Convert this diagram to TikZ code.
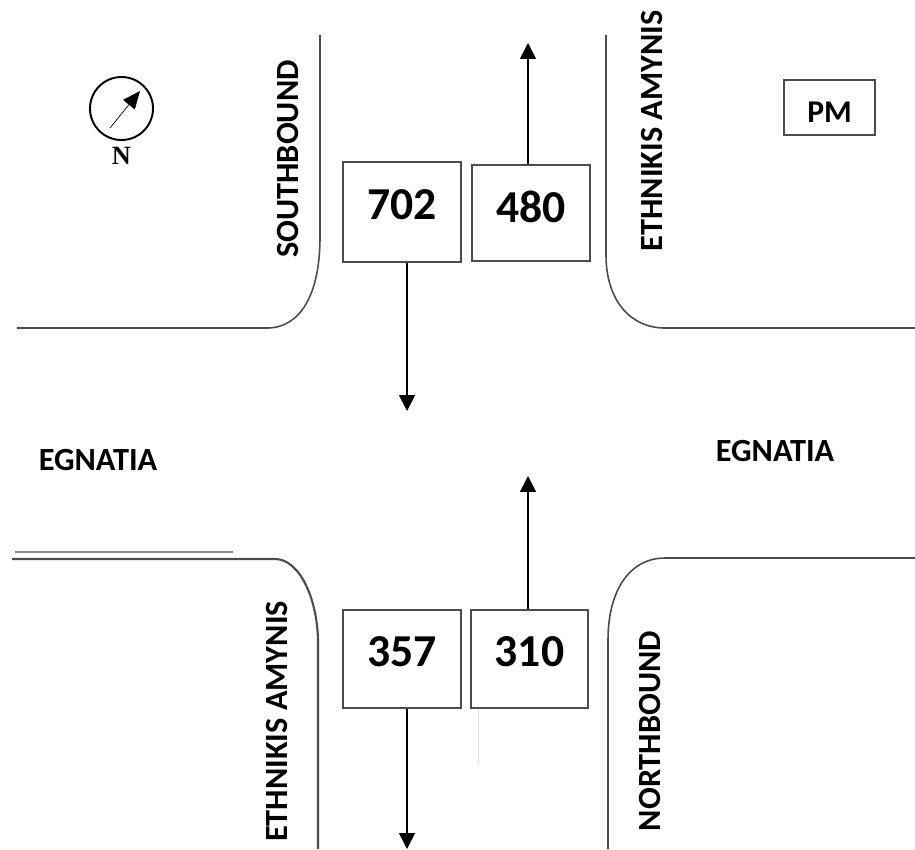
\documentclass[tikz,border=0pt]{standalone}
\usepackage{fontspec}
\setmainfont{Carlito}
\newfontfamily\signfont{Liberation Serif}
\usepackage{tikz}
\usetikzlibrary{arrows.meta, positioning}

\begin{document}
\begin{tikzpicture}[
    x=0.02cm, y=-0.02cm,
    road/.style={draw=black!70, line width=0.9pt},
    flow/.style={draw=black, line width=0.9pt, -{Triangle[length=9pt, width=9pt]}},
    countbox/.style={draw=black!70, line width=0.7pt, inner sep=0pt, font=\fontsize{26}{26}\selectfont\bfseries},
    roadname/.style={font=\fontsize{18.4}{19}\selectfont\bfseries, inner sep=0pt},
    vertname/.style={roadname, rotate=90}
]
    \useasboundingbox (0,0) rectangle (915,849);

    % road edges
    \draw[road] (320,35) -- (320,237) .. controls (320,295) and (300,328) .. (267,328) -- (17,328);
    \draw[road] (606,35) -- (606,255) .. controls (606,300) and (630,328) .. (665,328) -- (915,328);
    \draw[road, line width=1.2pt] (12,559) -- (275,559) .. controls (300,559) and (318,600) .. (318,643) -- (318,849);
    \draw[road] (915,558) -- (665,558) .. controls (630,558) and (608,590) .. (608,640) -- (608,849);
    \draw[draw=black!45, line width=0.7pt] (15,552) -- (233,552);
    \draw[draw=black!12, line width=0.5pt] (478,708) -- (478,765);

    % counts
    \node[countbox, minimum width=118*0.02cm, minimum height=100*0.02cm, text depth=9pt] (sb) at (402,212) {702};
    \node[countbox, minimum width=118*0.02cm, minimum height=96*0.02cm, text depth=6.8pt] (wb) at (531,213) {480};
    \node[countbox, minimum width=118*0.02cm, minimum height=98*0.02cm, text depth=8pt] (eb) at (402,659) {357};
    \node[countbox, minimum width=117*0.02cm, minimum height=98*0.02cm, text depth=8pt] (nb) at (529.5,659) {310};
    \node[draw=black!70, line width=0.7pt, minimum width=91*0.02cm, minimum height=55*0.02cm, inner sep=0pt, font=\fontsize{18}{18}\selectfont\bfseries, text height=16.5pt] (pm) at (829.5,107.5) {PM};

    % arrow ends
    \coordinate (sbend) at (407,411);
    \coordinate (wbend) at (528,43);
    \coordinate (ebend) at (407,849);
    \coordinate (nbend) at (528,476);

    \draw[flow] (sb.south -| sbend) -- (sbend);
    \draw[flow] (wb.north -| wbend) -- (wbend);
    \draw[flow] (eb.south -| ebend) -- (ebend);
    \draw[flow] (nb.north -| nbend) -- (nbend);

    % street names
    \node[vertname] (south) at (288,159) {SOUTHBOUND};
    \node[vertname] (amynisn) at (652,131) {ETHNIKIS AMYNIS};
    \node[vertname] (amyniss) at (277,721.5) {ETHNIKIS AMYNIS};
    \node[vertname] (north) at (650,731) {NORTHBOUND};
    \node[roadname] (egnw) at (98,460) {EGNATIA};
    \node[roadname] (egne) at (775,451) {EGNATIA};

    % north sign
    \node[circle, draw=black, line width=1.1pt, minimum size=63*0.02cm, inner sep=0pt] (compass) at (121.5,108.5) {};
    \coordinate (ntail) at (110,128);
    \coordinate (nhead) at (140,91);
    \draw[draw=black, line width=0.4pt, -{Triangle[length=10pt, width=8.5pt]}] (ntail) -- (nhead);
    \node[below=3.4pt of compass, font=\fontsize{15}{15}\selectfont\signfont\bfseries, inner sep=0pt] (nlabel) {N};
\end{tikzpicture}
\end{document}
